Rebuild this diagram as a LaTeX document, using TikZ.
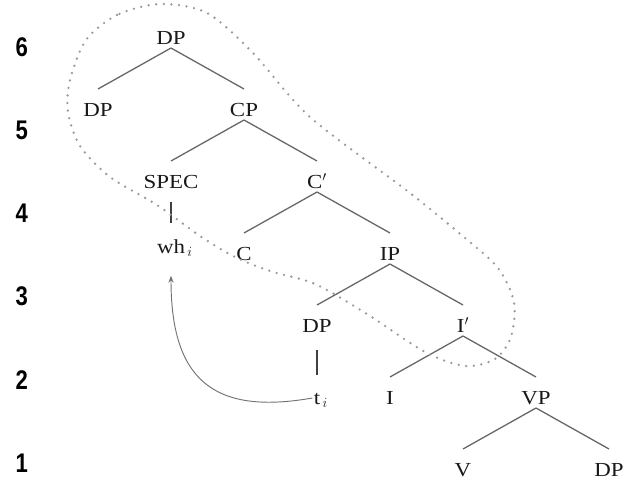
\documentclass[tikz,border=0pt]{standalone}
\usepackage{fontspec}
\usepackage{amsmath}
\usepackage{tikz}
\usetikzlibrary{arrows.meta}
\newfontfamily\numfont[FakeStretch=0.82]{Liberation Sans}
\newfontfamily\catfont[FakeStretch=1.15]{Liberation Serif}

\begin{document}
\begin{tikzpicture}[>={Stealth[open, length=6pt, width=4.5pt]}, node distance=2.16cm]
    \tikzstyle{cat} = [inner sep=1pt, text=black!90, text height=11pt, text depth=0pt,
	font=\catfont\fontsize{17}{20}\selectfont]
    \tikzstyle{branch} = [line width=1.1pt, black!60]
    \tikzstyle{bar} = [line width=2pt, black!75]
    \tikzstyle{rowno} = [font=\numfont\bfseries\fontsize{23}{26}\selectfont]
    \tikzstyle{chain} = [black!40, line width=2.2pt, line cap=round,
	dash pattern=on 0pt off 6.5pt]
    \useasboundingbox (0,0) rectangle (18.81,-14.64);
    % level numbers
    \foreach \i in {1,...,6}
        \node[rowno] (n\i) at (0.65, {-13.89+(\i-1)*2.496}) {\i};
    % the tree
    \path
        node[cat] (DP) at (5.13,-1.14) {DP}
        node[cat, below of=DP, xshift=-2.19cm] (DPa) {DP}
        node[cat, below of=DP, xshift=2.19cm] (CP) {CP}
        node[cat, below of=CP, xshift=-2.19cm] (SPEC) {SPEC}
        node[cat, below of=CP, xshift=2.19cm] (Cbar) {C$'$}
        node[cat, below of=SPEC, yshift=0.22cm] (wh) {wh\rlap{$_{\,i}$}}
        node[cat, below of=Cbar, xshift=-2.19cm] (C) {C}
        node[cat, below of=Cbar, xshift=2.19cm] (IP) {IP}
        node[cat, below of=IP, xshift=-2.19cm] (DPb) {DP}
        node[cat, below of=IP, xshift=2.19cm] (Ibar) {I$'$}
        node[cat, below of=DPb] (t) {t\rlap{$_{\,i}$}}
        node[cat, below of=Ibar, xshift=-2.19cm] (I) {I}
        node[cat, below of=Ibar, xshift=2.19cm] (VP) {VP}
        node[cat, below of=VP, xshift=-2.19cm] (V) {V}
        node[cat, below of=VP, xshift=2.19cm] (DPc) {DP};
    \path[branch]
        ([yshift=-3mm]DP.center) edge ([yshift=6.3mm]DPa.center)
        ([yshift=-3mm]DP.center) edge ([yshift=6.3mm]CP.center)
        ([yshift=-3mm]CP.center) edge ([yshift=6.3mm]SPEC.center)
        ([yshift=-3mm]CP.center) edge ([yshift=6.3mm]Cbar.center)
        ([yshift=-3mm]Cbar.center) edge ([yshift=6.3mm]C.center)
        ([yshift=-3mm]Cbar.center) edge ([yshift=6.3mm]IP.center)
        ([yshift=-3mm]IP.center) edge ([yshift=6.3mm]DPb.center)
        ([yshift=-3mm]IP.center) edge ([yshift=6.3mm]Ibar.center)
        ([yshift=-3mm]Ibar.center) edge ([yshift=6.3mm]I.center)
        ([yshift=-3mm]Ibar.center) edge ([yshift=6.3mm]VP.center)
        ([yshift=-3mm]VP.center) edge ([yshift=6.3mm]V.center)
        ([yshift=-3mm]VP.center) edge ([yshift=6.3mm]DPc.center);
    \path[bar]
        ([yshift=-6mm]SPEC.center) edge ([yshift=7.2mm]wh.center)
        ([yshift=-7.2mm]DPb.center) edge ([yshift=7mm]t.center);
    % movement
    \draw[->, line width=0.8pt, black!55] (t.west) to[out=190, in=-90, looseness=1.4]
        ([yshift=-8.7mm]wh.center);
    % the dotted loop
    \begin{scope}[x=0.3mm, y=-0.3mm]
        \draw[chain] plot[smooth cycle] coordinates {(160,4) (117,15) (86,40)
            (70,80) (68,112) (80,146) (110,177) (157,205) (200,236) (235,257)
            (270,271) (315,284) (367,314) (425,352) (465,366) (495,359)
            (511,337) (514,302) (498,268) (465,238) (410,193) (310,117)
            (253,53) (207,13)};
    \end{scope}
\end{tikzpicture}
\end{document}
